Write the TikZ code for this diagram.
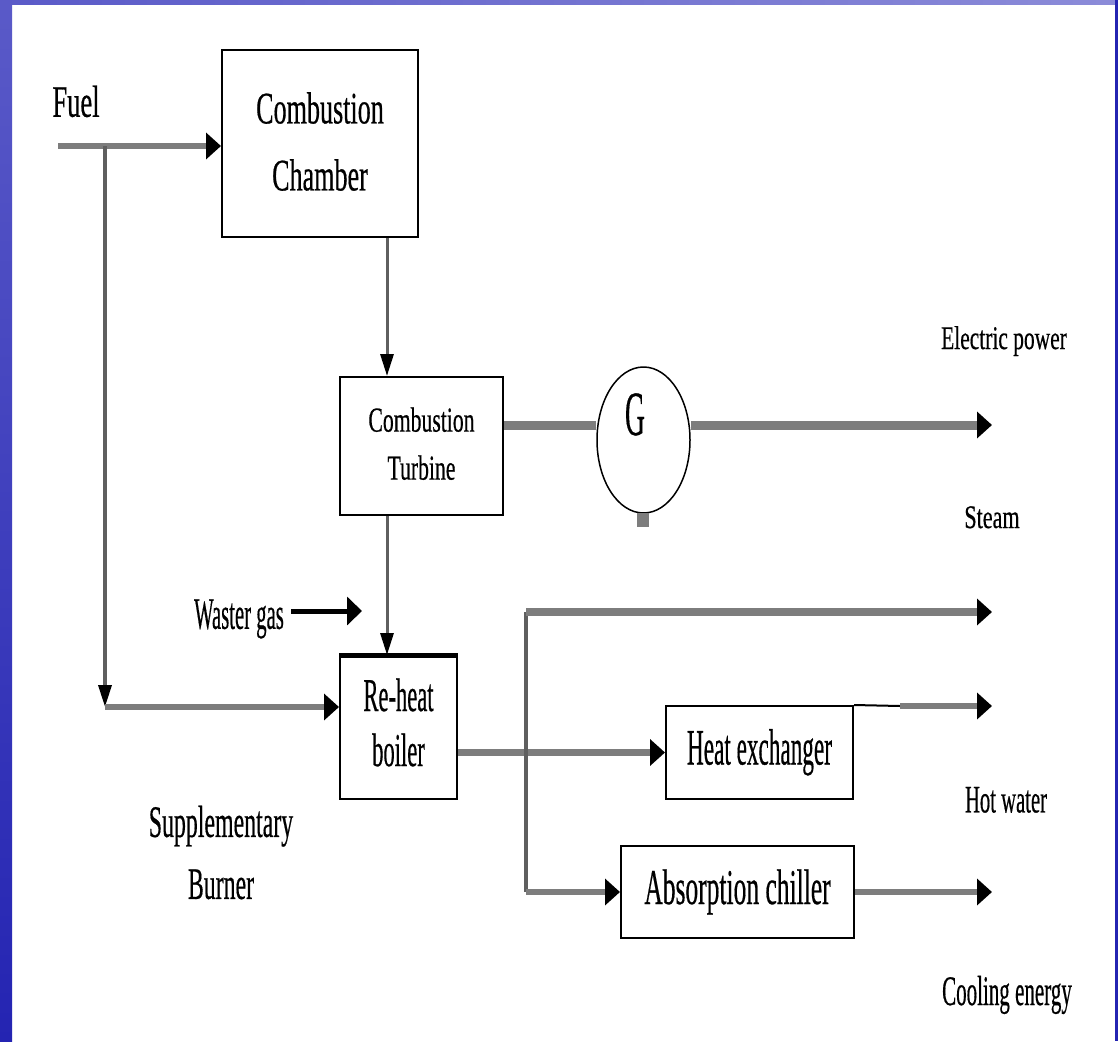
\documentclass[tikz,border=0pt]{standalone}
\usepackage{fontspec}
\setmainfont[FakeBold=0.6]{Liberation Serif}
\usetikzlibrary{arrows.meta,shapes.geometric,calc}
\definecolor{flowgray}{RGB}{125,125,125}
\definecolor{thingray}{RGB}{95,95,95}
\definecolor{bluetop}{RGB}{90,90,200}
\definecolor{bluebot}{RGB}{36,36,178}
\newcommand\lbl[4]{\scalebox{#1}[1]{\fontsize{#2pt}{#3pt}\selectfont\begin{tabular}{@{}c@{}}#4\end{tabular}}}
\begin{document}
\begin{tikzpicture}[x=1pt,y=-1pt,
  box/.style={draw=black,line width=2pt,rectangle,inner sep=0pt,fill=white},
  txt/.style={inner sep=0pt},
  flow/.style={draw=flowgray,line width=7pt},
  pipe/.style={draw=thingray,line width=3.5pt},
  harr/.style={-{Triangle[length=15pt,width=26pt,color=black]}},
  varr/.style={-{Triangle[length=22pt,width=13pt,color=black]}}]
% page and border
\useasboundingbox (0,0) rectangle (1118,1041);
\fill[white] (0,0) rectangle (1118,1041);
\shade[top color=bluetop,bottom color=bluebot] (0,0) rectangle (12,1041);
\shade[left color=bluetop,right color=bluetop!70!white] (0,0) rectangle (1118,5);
\fill[bluebot] (1115,0) rectangle (1118,1041);

% boxes
\node[box,minimum width=196pt,minimum height=187pt] (cc) at (320,143.5) {\lbl{0.58}{45}{67}{Combustion\\Chamber}};
\node[box,minimum width=163pt,minimum height=138pt] (ct) at (421.5,446) {\lbl{0.62}{35}{48}{Combustion\\Turbine}};
\node[box,minimum width=117pt,minimum height=143pt] (rh) at (398.5,727.5) {\lbl{0.48}{47}{55}{Re-heat\\boiler}};
\draw[line width=5pt] (rh.north west) -- (rh.north east);
\node[box,minimum width=187pt,minimum height=93pt] (hx) at (759.5,752.5) {\lbl{0.455}{51}{60}{Heat exchanger}};
\node[box,minimum width=233pt,minimum height=92pt] (ch) at (737.5,892) {\lbl{0.51}{50}{60}{Absorption chiller}};
\node[draw=black,line width=1.5pt,ellipse,minimum width=93pt,minimum height=146pt,inner sep=0pt] (g) at (643.5,440) {};
\fill[flowgray] (637,513) rectangle (649,527);
\node[txt] (gtxt) at (635,421) {\lbl{0.44}{63}{70}{G}};

% free labels
\node[txt] (fuel) at (76,106) {\lbl{0.59}{45}{54}{Fuel}};
\node[txt] (wg) at (239,618) {\lbl{0.46}{45}{54}{Waster gas}};
\node[txt] (sup) at (221,855.5) {\lbl{0.53}{45}{62}{Supplementary\\Burner}};
\node[txt] (elec) at (1004,341) {\lbl{0.65}{33}{40}{Electric power}};
\node[txt] (steam) at (992,520) {\lbl{0.67}{33}{40}{Steam}};
\node[txt] (hot) at (1006,803) {\lbl{0.53}{39}{47}{Hot water}};
\node[txt] (cool) at (1007,995) {\lbl{0.50}{42}{50}{Cooling energy}};

% coordinates
\coordinate (fuelin) at (58,146);
\coordinate (fb) at (105,146);
\coordinate (fc) at (105,707);
\coordinate (vx) at (387,0);
\coordinate (wgend) at (362,611);
\coordinate (st) at (526,612);
\coordinate (outx) at (992,0);
\coordinate (py) at (0,425);
\coordinate (hwmid) at (900,706);

% connectors
\draw[flow,line width=6pt,harr] (fuelin) -- (fuelin -| cc.west);
\draw[pipe,varr] (fb) -- (fc);
\draw[flow,line width=6pt,harr] (fc) -- (fc -| rh.west);
\draw[pipe,line width=3pt,varr] (cc.south -| vx) -- (ct.north -| vx);
\draw[pipe,line width=3pt,varr] (ct.south -| vx) -- (rh.north -| vx);
\draw[black,line width=5pt,-{Triangle[length=15pt,width=28pt]}] ([xshift=7pt]wg.east |- wgend) -- (wgend);
\draw[flow,line width=9pt] (ct.east |- py) -- (g.west |- py);
\draw[flow,line width=9pt,harr] (g.east |- py) -- (outx |- py);
\draw[flow,line width=7pt,harr] (rh.east |- hx.west) -- (hx.west);
\draw[pipe] (st) -- (st |- ch.west);
\draw[flow,line width=6pt,harr] (st |- ch.west) -- (ch.west);
\draw[flow,line width=8pt,harr] (st) -- (st -| outx);
\draw[black,line width=2pt] (hx.north east) -- (hwmid);
\draw[flow,line width=6pt,harr] (hwmid) -- (hwmid -| outx);
\draw[flow,line width=6pt,harr] (ch.east) -- (ch.east -| outx);
\end{tikzpicture}
\end{document}
